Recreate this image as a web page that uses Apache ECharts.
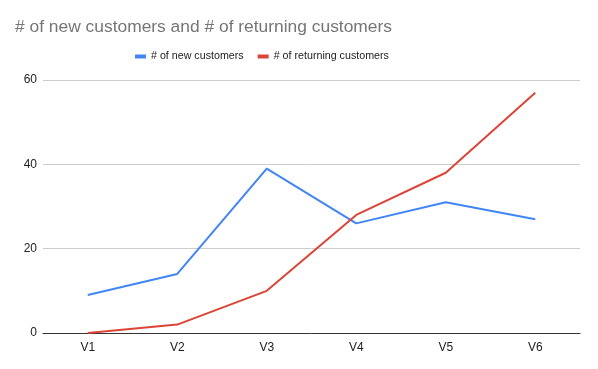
<!DOCTYPE html>
<html><head><meta charset="utf-8">
<script src="https://cdn.jsdelivr.net/npm/echarts@6/dist/echarts.min.js"></script>
<style>html,body{margin:0;padding:0;background:#fff}#c{width:598px;height:369px}</style>
</head><body><div id="c"></div>
<script>
const categories = ['V1','V2','V3','V4','V5','V6'];
const newCustomers = [9, 14, 39, 26, 31, 27];
const returningCustomers = [0, 2, 10, 28, 38, 57];
const yTicks = { min: 0, max: 60, interval: 20 };

const chart = echarts.init(document.getElementById('c'));
chart.setOption({
  animation: false,
  backgroundColor: '#fff',
  textStyle: { fontFamily: 'Liberation Sans, Arial, sans-serif' },
  title: {
    text: '# of new customers and # of returning customers',
    left: 10, top: 14,
    textStyle: { fontSize: 17.4, fontWeight: 'normal', color: '#757575', fontFamily: 'Liberation Sans, Arial, sans-serif' }
  },
  legend: {
    top: 46, left: 130,
    itemWidth: 11, itemHeight: 4, itemGap: 14,
    icon: 'rect',
    textStyle: { fontSize: 10.7, color: '#222' },
    data: ['# of new customers', '# of returning customers']
  },
  grid: { left: 43, right: 18, top: 80, bottom: 36, containLabel: false },
  xAxis: {
    type: 'category', data: categories, boundaryGap: true,
    axisLine: { lineStyle: { color: '#333', width: 1 } },
    axisTick: { show: false },
    axisLabel: { color: '#222', fontSize: 12, margin: 9 }
  },
  yAxis: {
    type: 'value', min: yTicks.min, max: yTicks.max, interval: yTicks.interval,
    axisLine: { show: false }, axisTick: { show: false },
    axisLabel: { color: '#222', fontSize: 12, margin: 6 },
    splitLine: { lineStyle: { color: '#ccc' } }
  },
  series: [
    { name: '# of new customers', type: 'line', data: newCustomers, showSymbol: false,
      lineStyle: { color: '#4285F4', width: 2 }, itemStyle: { color: '#4285F4' } },
    { name: '# of returning customers', type: 'line', data: returningCustomers, showSymbol: false,
      lineStyle: { color: '#DB4437', width: 2 }, itemStyle: { color: '#DB4437' } }
  ]
});
</script></body></html>
